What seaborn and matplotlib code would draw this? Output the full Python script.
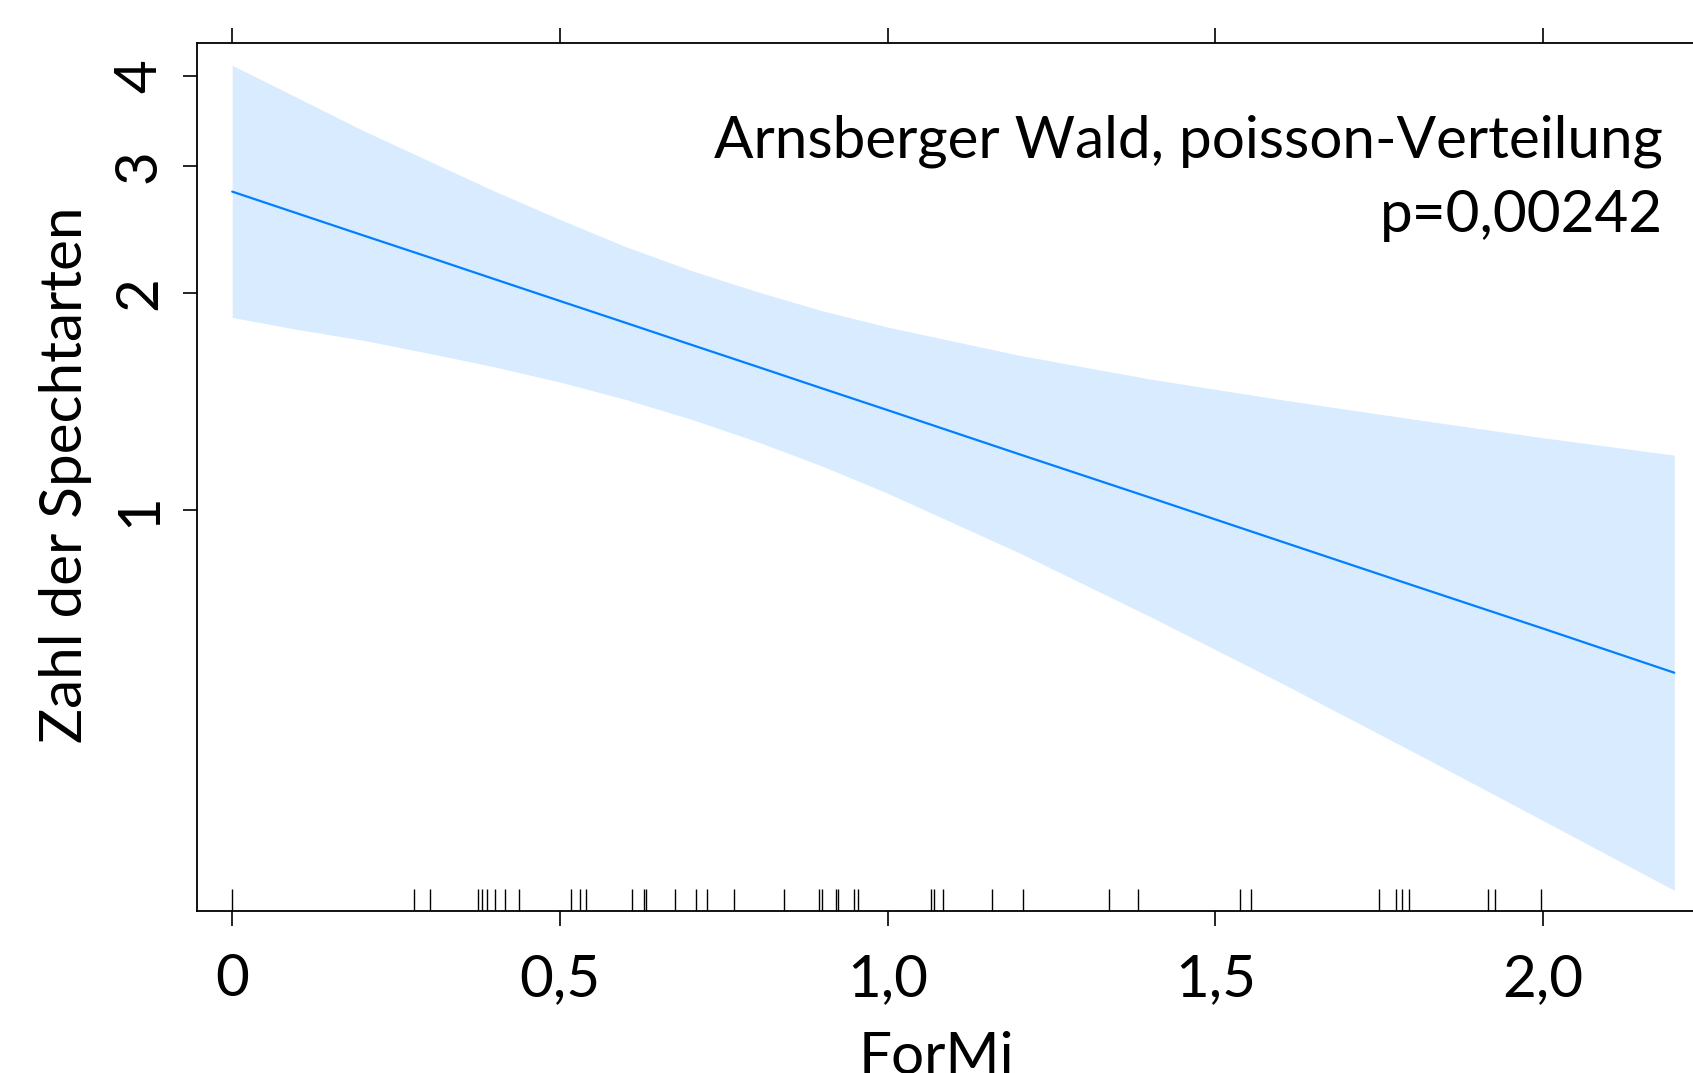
import numpy as np
import matplotlib
matplotlib.use("Agg")
import matplotlib.pyplot as plt
import seaborn as sns

# effect of ForMi on number of woodpecker species
formi_grid = [0, 0.1, 0.2, 0.3, 0.4, 0.5, 0.6, 0.7, 0.8, 0.9, 1.0,
              1.2, 1.4, 1.6, 1.8, 2.0, 2.2]
fit = [2.765, 2.578, 2.404, 2.243, 2.091, 1.950, 1.819, 1.696, 1.582, 1.475, 1.376,
       1.196, 1.041, 0.905, 0.787, 0.685, 0.595]
upper = [4.14, 3.73, 3.36, 3.05, 2.77, 2.53, 2.32, 2.15, 2.01, 1.89, 1.794,
         1.64, 1.52, 1.423, 1.338, 1.26, 1.192]
lower = [1.85, 1.78, 1.72, 1.65, 1.58, 1.505, 1.424, 1.337, 1.245, 1.151, 1.055,
         0.873, 0.712, 0.576, 0.463, 0.371, 0.297]

# observed ForMi values (rug)
formi_obs = [0.0, 0.278, 0.302, 0.375, 0.381, 0.388, 0.401, 0.416, 0.438,
             0.517, 0.530, 0.540, 0.610, 0.628, 0.631, 0.676, 0.708, 0.724,
             0.766, 0.842, 0.895, 0.900, 0.921, 0.924, 0.949, 0.955,
             1.066, 1.071, 1.085, 1.159, 1.206, 1.338, 1.382, 1.538, 1.554,
             1.749, 1.776, 1.784, 1.795, 1.916, 1.927, 1.997]

x_ticks = [0, 0.5, 1.0, 1.5, 2.0]
x_labels = ['0', '0,5', '1,0', '1,5', '2,0']
y_ticks = [1, 2, 3, 4]
y_labels = ['1', '2', '3', '4']

sns.set_theme(style="ticks")
plt.rcParams['font.family'] = ['Lato', 'DejaVu Sans']
plt.rcParams['text.color'] = 'black'
plt.rcParams['axes.labelcolor'] = 'black'
plt.rcParams['xtick.color'] = 'black'
plt.rcParams['ytick.color'] = 'black'

W, H = 1693, 1073
fig = plt.figure(figsize=(W / 100, H / 100), dpi=100)
ax = fig.add_axes([196.5 / W, 1 - 911 / H, (1710 - 196.5) / W, (911 - 43.3) / H])

ax.fill_between(formi_grid, lower, upper, color='#D9ECFF', lw=0)
sns.lineplot(x=formi_grid, y=fit, color='#0080FF', lw=1.6, ax=ax)
sns.rugplot(x=formi_obs, height=22 / 867.7, color='black', lw=1.2, ax=ax)

ax.set_yscale('log')
ax.set_xlim(-0.0545, 2.2545)
ax.set_ylim(0.278, 4.44)

ax.set_xticks(x_ticks)
ax.set_xticklabels(x_labels)
ax.set_yticks(y_ticks)
ax.set_yticklabels(y_labels, rotation=90, va='center')
ax.minorticks_off()

fs = 42
ax.tick_params(axis='x', direction='out', length=11, width=1.2, color='black',
               top=True, labeltop=False, labelsize=fs, labelcolor='black', pad=19)
ax.tick_params(axis='y', direction='out', length=10, width=1.2, color='black',
               labelsize=fs, labelcolor='black', pad=12)
for sp in ax.spines.values():
    sp.set_visible(True)
    sp.set_color('black')
    sp.set_linewidth(1.3)

ax.set_xlabel('ForMi', fontsize=fs, color='black')
ax.xaxis.set_label_coords(936 / W, 1 - 1031 / H, transform=fig.transFigure)
ax.set_ylabel('Zahl der Spechtarten', fontsize=fs, color='black')
ax.yaxis.set_label_coords(92 / W, 1 - 475 / H, transform=fig.transFigure)

fig.text(1663 / W, 1 - 157 / H, 'Arnsberger Wald, poisson-Verteilung',
         ha='right', va='baseline', fontsize=fs, color='black')
fig.text(1663 / W, 1 - 232 / H, 'p=0,00242',
         ha='right', va='baseline', fontsize=fs, color='black')

fig.savefig('out.png', dpi=100)
